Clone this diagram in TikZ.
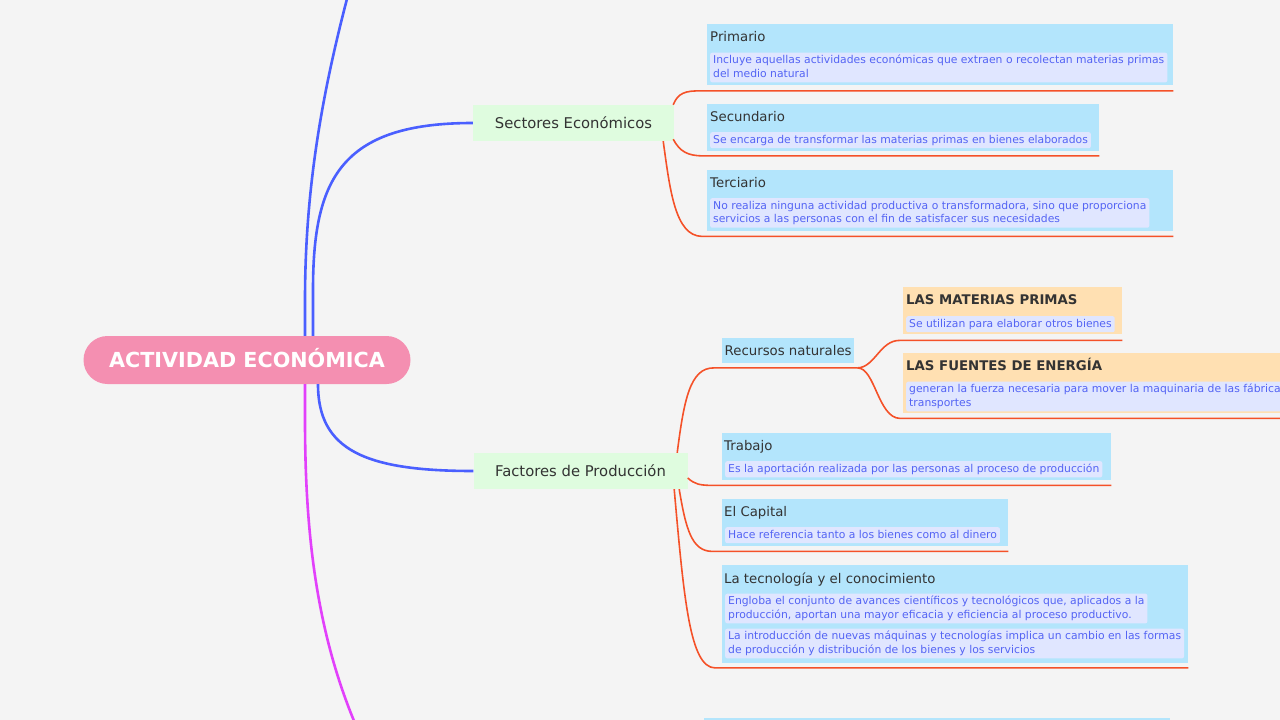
\documentclass[tikz,border=0pt]{standalone}
\usepackage{fontspec}
\setmainfont{DejaVu Sans}
\usetikzlibrary{calc}
\definecolor{bg}{RGB}{244,244,244}
\definecolor{bluel}{RGB}{74,95,255}
\definecolor{magl}{RGB}{226,64,251}
\definecolor{redl}{RGB}{244,81,40}
\definecolor{pinkr}{RGB}{244,143,177}
\definecolor{greenb}{RGB}{223,252,223}
\definecolor{blueb}{RGB}{179,229,252}
\definecolor{orangeb}{RGB}{255,224,178}
\definecolor{lav}{RGB}{224,230,255}
\definecolor{desct}{RGB}{84,100,244}
\definecolor{ttlt}{RGB}{51,51,51}
\newcommand{\ds}{\rule[-2.5pt]{0pt}{11pt}}
\begin{document}
\begin{tikzpicture}[x=1pt,y=-1pt,
 rootnode/.style={fill=pinkr, text=white, rounded corners=24pt, minimum width=327pt, minimum height=48pt, inner sep=0pt, text height=15pt, text depth=0pt, font=\bfseries\fontsize{20.7}{24}\selectfont},
 mainnode/.style={fill=greenb, text=ttlt, minimum height=36pt, inner sep=0pt, font=\fontsize{14.8}{18}\selectfont},
 card/.style={fill=blueb, anchor=north west, inner sep=0pt},
 ocard/.style={fill=orangeb, anchor=north west, inner sep=0pt},
 ttl/.style={anchor=base west, inner sep=0pt, text=ttlt, font=\fontsize{13.3}{16}\selectfont},
 bttl/.style={anchor=base west, inner sep=0pt, text=ttlt, font=\bfseries\fontsize{13.3}{16}\selectfont},
 desc/.style={anchor=north west, fill=lav, rounded corners=2pt, inner xsep=3pt, inner ysep=2.5pt, align=left, text=desct, font=\fontsize{10.8}{13.5}\selectfont},
 bl/.style={draw=bluel, line width=2.6pt},
 ml/.style={draw=magl, line width=2.6pt},
 rl/.style={draw=redl, line width=1.6pt}
]
\useasboundingbox (0,0) rectangle (1280,720);
\begin{scope}
\clip (0,0) rectangle (1280,720);
\fill[bg] (0,0) rectangle (1280,720);

% root and main topics
\node[rootnode] (root) at (247,360) {ACTIVIDAD ECONÓMICA};
\node[mainnode, minimum width=201pt] (sect) at (573.5,123) {Sectores Económicos};
\node[mainnode, minimum width=214pt] (fact) at (580.5,471) {Factores de Producción};

% cards: Sectores
\node[card, minimum width=466pt, minimum height=61pt] (prim) at (707,24) {};
\node[ttl] (primt) at ($(prim.north west)+(3,17)$) {Primario};
\node[desc] (primd) at ($(prim.north west)+(3,28.5)$) {\ds Incluye aquellas actividades económicas que extraen o recolectan materias primas\\del medio natural\ds};

\node[card, minimum width=392pt, minimum height=46.5pt] (sec) at (707,104) {};
\node[ttl] (sect2) at ($(sec.north west)+(3,17)$) {Secundario};
\node[desc] (secd) at ($(sec.north west)+(3,28)$) {\ds Se encarga de transformar las materias primas en bienes elaborados\ds};

\node[card, minimum width=466pt, minimum height=60.5pt] (ter) at (707,170) {};
\node[ttl] (tert) at ($(ter.north west)+(3,17)$) {Terciario};
\node[desc] (terd) at ($(ter.north west)+(3,28)$) {\ds No realiza ninguna actividad productiva o transformadora, sino que proporciona\\servicios a las personas con el fin de satisfacer sus necesidades\ds};

% cards: Factores
\node[card, minimum width=132pt, minimum height=25pt] (rec) at (722,338) {};
\node[ttl] (rect) at ($(rec.north west)+(2.5,17)$) {Recursos naturales};

\node[ocard, minimum width=219pt, minimum height=47pt] (mat) at (903,287) {};
\node[bttl] (matt) at ($(mat.north west)+(3,17.5)$) {LAS MATERIAS PRIMAS};
\node[desc] (matd) at ($(mat.north west)+(3,29)$) {\ds Se utilizan para elaborar otros bienes\ds};

\node[ocard, minimum width=400pt, minimum height=60pt] (fue) at (903,353) {};
\node[bttl] (fuet) at ($(fue.north west)+(3,17.5)$) {LAS FUENTES DE ENERGÍA};
\node[desc] (fued) at ($(fue.north west)+(3,28.5)$) {\ds generan la fuerza necesaria para mover la maquinaria de las fábricas\\transportes\ds};

\node[card, minimum width=389pt, minimum height=47pt] (tra) at (722,433) {};
\node[ttl] (trat) at ($(tra.north west)+(2,17)$) {Trabajo};
\node[desc] (trad) at ($(tra.north west)+(3,28)$) {\ds Es la aportación realizada por las personas al proceso de producción\ds};

\node[card, minimum width=286pt, minimum height=47pt] (cap) at (722,499) {};
\node[ttl] (capt) at ($(cap.north west)+(2,17)$) {El Capital};
\node[desc] (capd) at ($(cap.north west)+(3,28)$) {\ds Hace referencia tanto a los bienes como al dinero\ds};

\node[card, minimum width=466pt, minimum height=98pt] (tec) at (722,564.5) {};
\node[ttl] (tect) at ($(tec.north west)+(2,18.5)$) {La tecnología y el conocimiento};
\node[desc] (tecd1) at ($(tec.north west)+(3,29)$) {\ds Engloba el conjunto de avances científicos y tecnológicos que, aplicados a la\\producción, aportan una mayor eficacia y eficiencia al proceso productivo.\ds};
\node[desc] (tecd2) at ($(tec.north west)+(3,64)$) {\ds La introducción de nuevas máquinas y tecnologías implica un cambio en las formas\\de producción y distribución de los bienes y los servicios\ds};

% next card peeking at the bottom
\node[card, minimum width=466pt, minimum height=20pt] (nxt) at (704,718) {};

% blue / magenta branches from root
\coordinate (topend) at (352,-20);
\coordinate (botend) at (360,735);
\draw[bl] ($(root.north)+(58,0)$) -- (305,300) .. controls (305,180) and (325,80) .. (topend);
\draw[bl] ($(root.north)+(66,0)$) -- (313,290) .. controls (313,180) and (340,123) .. (sect.west);
\draw[bl] ($(root.south)+(71,0)$) .. controls (318,450) and (365,471) .. (fact.west);
\draw[ml] ($(root.south)+(58,0)$) -- (305,420) .. controls (305,540) and (318,640) .. (botend);

% red connectors: Sectores
\draw[rl] ($(sect.north east)+(-1,0)$) .. controls (678,93) and (685,90.5) .. ($(prim.south west)+(-5,5.5)$) -- ($(prim.south east)+(0,5.5)$);
\draw[rl] ($(sect.south east)+(-1,-2)$) .. controls (680,152) and (688,155.5) .. ($(sec.south west)+(-5,5)$) -- ($(sec.south east)+(0,5)$);
\draw[rl] ($(sect.south east)+(-11,0)$) .. controls (670,190) and (675,236) .. ($(ter.south west)+(-5,5.5)$) -- ($(ter.south east)+(0,5.5)$);

% red connectors: Factores
\draw[rl] ($(fact.north east)+(-10.5,0)$) .. controls (684,400) and (690,367.5) .. ($(rec.south west)+(-8,4.5)$) -- ($(rec.south east)+(3,4.5)$) coordinate (fork);
\draw[rl] (fork) .. controls (875,367.5) and (880,340) .. ($(mat.south west)+(-3,6)$) -- ($(mat.south east)+(0,6)$);
\draw[rl] (fork) .. controls (875,367.5) and (878,418) .. ($(fue.south west)+(-3,5)$) -- ($(fue.south east)+(0,5)$);
\draw[rl] ($(fact.east)+(0,7)$) .. controls (695,484.5) and (700,485) .. ($(tra.south west)+(-12,5)$) -- ($(tra.south east)+(0,5)$);
\draw[rl] ($(fact.south east)+(-8.5,0)$) .. controls (686,530) and (692,551) .. ($(cap.south west)+(-10,5)$) -- ($(cap.south east)+(0,5)$);
\draw[rl] ($(fact.south east)+(-13.5,0)$) .. controls (684,600) and (690,667.5) .. ($(tec.south west)+(-7,5)$) -- ($(tec.south east)+(0,5)$);
\end{scope}
\end{tikzpicture}
\end{document}
